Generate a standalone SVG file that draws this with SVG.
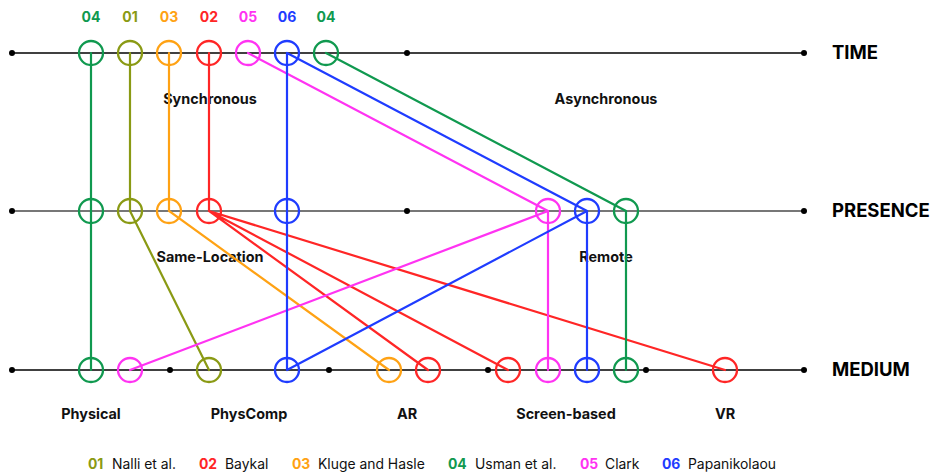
<svg xmlns="http://www.w3.org/2000/svg" width="935" height="474" viewBox="0 0 935 474">
  <style>
    .axis { stroke: #000; stroke-width: 1.6; fill: none; }
    .axis.mid { stroke: #4a4a4a; }
    .dot { fill: #000; }
    .c { fill: none; stroke-width: 2.3; }
    .l { fill: none; stroke-width: 2.2; stroke-linecap: round; }
    .g { stroke: #10994f; } .gt { fill: #10994f; }
    .o { stroke: #8a9a14; } .ot { fill: #8a9a14; }
    .y { stroke: #ffa214; } .yt { fill: #ffa214; }
    .r { stroke: #ff2626; } .rt { fill: #ff2626; }
    .m { stroke: #ff33f2; } .mt { fill: #ff33f2; }
    .b { stroke: #1f3cff; } .bt { fill: #1f3cff; }
    text { font-family: Inter, "Liberation Sans", Arial, sans-serif; }
    .axl { font-size: 18.5px; font-weight: 700; fill: #000; }
    .sub { font-size: 14.4px; font-weight: 700; fill: #111; text-anchor: middle; }
    .num { font-size: 14px; font-weight: 700; text-anchor: middle; }
    .leg { font-size: 13.9px; fill: #111; }
    .legn { font-size: 13.9px; font-weight: 700; }
  </style>

  <!-- axes -->
  <g id="axes">
    <line class="axis" x1="12" y1="53" x2="804" y2="53"/>
    <line class="axis mid" x1="12" y1="211" x2="804" y2="211"/>
    <line class="axis" x1="12" y1="370" x2="804" y2="370"/>
    <circle class="dot" cx="12" cy="53" r="3"/>
    <circle class="dot" cx="407" cy="53" r="3"/>
    <circle class="dot" cx="804" cy="53" r="3"/>
    <circle class="dot" cx="12" cy="211" r="3"/>
    <circle class="dot" cx="407" cy="211" r="3"/>
    <circle class="dot" cx="804" cy="211" r="3"/>
    <circle class="dot" cx="12" cy="370" r="3"/>
    <circle class="dot" cx="170" cy="370" r="3"/>
    <circle class="dot" cx="329" cy="370" r="3"/>
    <circle class="dot" cx="488" cy="370" r="3"/>
    <circle class="dot" cx="646" cy="370" r="3"/>
    <circle class="dot" cx="804" cy="370" r="3"/>
    <text class="axl" x="832" y="59">TIME</text>
    <text class="axl" x="832" y="217">PRESENCE</text>
    <text class="axl" x="832" y="376">MEDIUM</text>
    <text class="sub" x="210" y="104">Synchronous</text>
    <text class="sub" x="606" y="104">Asynchronous</text>
    <text class="sub" x="210" y="262">Same-Location</text>
    <text class="sub" x="606" y="262">Remote</text>
    <text class="sub" x="91" y="419">Physical</text>
    <text class="sub" x="249" y="419">PhysComp</text>
    <text class="sub" x="407" y="419">AR</text>
    <text class="sub" x="566" y="419">Screen-based</text>
    <text class="sub" x="725" y="419">VR</text>
  </g>

  <!-- connectors -->
  <g id="connectors">
    <path class="l g" d="M91 53 V370"/>
    <path class="l o" d="M130 53 V211 L209 370"/>
    <path class="l y" d="M169 53 V211 L389 370"/>
    <path class="l r" d="M209 53 V211 L428 370 M209 211 L508 370 M209 211 L725 370"/>
    <path class="l m" d="M248 53 L548 211 V370 M548 211 L130 370"/>
    <path class="l b" d="M287 53 V370 M287 53 L587 211 V370 M587 211 L287 370"/>
    <path class="l g" d="M326 53 L626 211 V370"/>
  </g>

  <!-- time nodes -->
  <g id="time-04a"><circle class="c g" cx="91" cy="53" r="12"/><text class="num gt" x="91" y="22">04</text></g>
  <g id="time-01"><circle class="c o" cx="130" cy="53" r="12"/><text class="num ot" x="130" y="22">01</text></g>
  <g id="time-03"><circle class="c y" cx="169" cy="53" r="12"/><text class="num yt" x="169" y="22">03</text></g>
  <g id="time-02"><circle class="c r" cx="209" cy="53" r="12"/><text class="num rt" x="209" y="22">02</text></g>
  <g id="time-05"><circle class="c m" cx="248" cy="53" r="12"/><text class="num mt" x="248" y="22">05</text></g>
  <g id="time-06"><circle class="c b" cx="287" cy="53" r="12"/><text class="num bt" x="287" y="22">06</text></g>
  <g id="time-04b"><circle class="c g" cx="326" cy="53" r="12"/><text class="num gt" x="326" y="22">04</text></g>

  <!-- presence nodes -->
  <g id="presence-04a"><circle class="c g" cx="91" cy="211" r="12"/></g>
  <g id="presence-01"><circle class="c o" cx="130" cy="211" r="12"/></g>
  <g id="presence-03"><circle class="c y" cx="169" cy="211" r="12"/></g>
  <g id="presence-02"><circle class="c r" cx="209" cy="211" r="12"/></g>
  <g id="presence-06a"><circle class="c b" cx="287" cy="211" r="12"/></g>
  <g id="presence-05"><circle class="c m" cx="548" cy="211" r="12"/></g>
  <g id="presence-06b"><circle class="c b" cx="587" cy="211" r="12"/></g>
  <g id="presence-04b"><circle class="c g" cx="626" cy="211" r="12"/></g>

  <!-- medium nodes -->
  <g id="medium-04a"><circle class="c g" cx="91" cy="370" r="12"/></g>
  <g id="medium-05a"><circle class="c m" cx="130" cy="370" r="12"/></g>
  <g id="medium-01"><circle class="c o" cx="209" cy="370" r="12"/></g>
  <g id="medium-06a"><circle class="c b" cx="287" cy="370" r="12"/></g>
  <g id="medium-03"><circle class="c y" cx="389" cy="370" r="12"/></g>
  <g id="medium-02a"><circle class="c r" cx="428" cy="370" r="12"/></g>
  <g id="medium-02b"><circle class="c r" cx="508" cy="370" r="12"/></g>
  <g id="medium-05b"><circle class="c m" cx="548" cy="370" r="12"/></g>
  <g id="medium-06b"><circle class="c b" cx="587" cy="370" r="12"/></g>
  <g id="medium-04b"><circle class="c g" cx="626" cy="370" r="12"/></g>
  <g id="medium-02c"><circle class="c r" cx="725" cy="370" r="12"/></g>

  <!-- legend -->
  <g id="legend">
    <text class="legn ot" x="88" y="469">01</text><text class="leg" x="112" y="469">Nalli et al.</text>
    <text class="legn rt" x="199" y="469">02</text><text class="leg" x="225" y="469">Baykal</text>
    <text class="legn yt" x="292" y="469">03</text><text class="leg" x="318" y="469">Kluge and Hasle</text>
    <text class="legn gt" x="448" y="469">04</text><text class="leg" x="475" y="469">Usman et al.</text>
    <text class="legn mt" x="580" y="469">05</text><text class="leg" x="605" y="469">Clark</text>
    <text class="legn bt" x="662" y="469">06</text><text class="leg" x="688" y="469">Papanikolaou</text>
  </g>
</svg>
